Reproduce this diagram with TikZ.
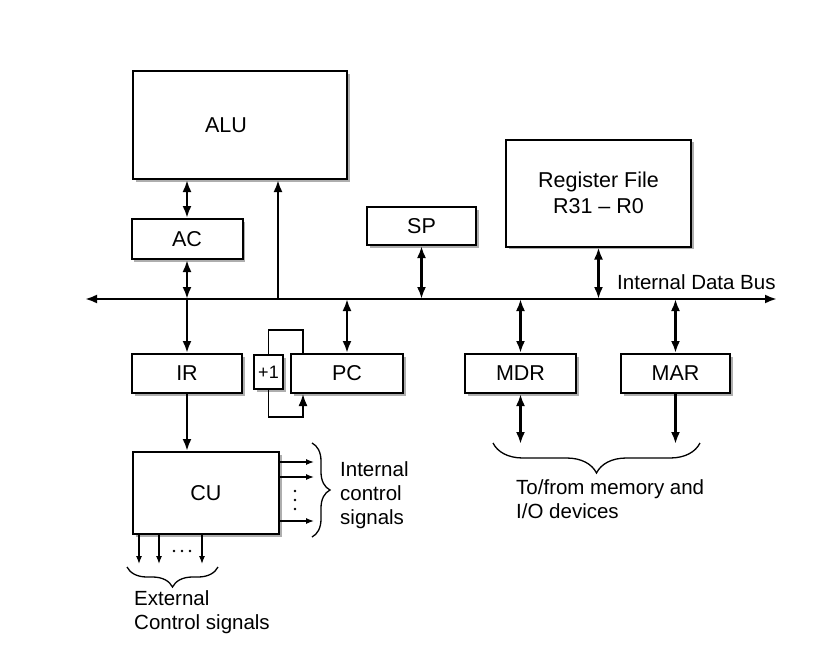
\documentclass[tikz,border=0pt]{standalone}
\usepackage{fontspec}
\setmainfont{Liberation Sans}
\usetikzlibrary{positioning,arrows.meta,shadows,decorations.pathreplacing}

\tikzset{
  reg/.style={draw, line width=2pt, fill=white, inner sep=0pt,
    drop shadow={shadow xshift=2.5pt,shadow yshift=-2.5pt,opacity=.45,fill=black!70},
    font=\fontsize{21.5}{26}\selectfont},
  bus/.style={line width=2.3pt, >={Latex[length=12pt,width=9pt]}},
  sig/.style={line width=1.3pt, ->, >={Latex[length=8pt,width=6pt]}},
  grp/.style={decorate, decoration={brace,amplitude=#1}, line width=1.3pt},
  txt/.style={align=left, inner sep=0pt, font=\fontsize{20.5}{24}\selectfont}
}

\begin{document}
\begin{tikzpicture}[x=1pt,y=-1pt]
	\useasboundingbox (0,0) rectangle (836,656);
	% registers and units
	\node[reg, minimum width=214pt, minimum height=108pt] (alu) at (240,125) {\hspace*{-28pt}ALU};
	\node[reg, minimum width=111pt, minimum height=40pt] (ac) at (187,239) {AC};
	\node[reg, minimum width=109pt, minimum height=38pt] (sp) at (421.5,226) {SP};
	\node[reg, minimum width=185pt, minimum height=107pt, align=center] (rf) at (598.5,193) {Register File\\R31 -- R0};
	\node[reg, minimum width=110pt, minimum height=39pt] (ir) at (187,373.5) {IR};
	\node[reg, minimum width=29pt, minimum height=34pt, font=\fontsize{18}{20}\selectfont] (inc) at (268.5,372) {+1};
	\node[reg, minimum width=112pt, minimum height=39pt] (pc) at (347,373.5) {PC};
	\node[reg, minimum width=111pt, minimum height=39pt] (mdr) at (520.5,373.5) {MDR};
	\node[reg, minimum width=109pt, minimum height=39pt] (mar) at (675.5,373.5) {MAR};
	\node[reg, minimum width=146pt, minimum height=82pt] (cu) at (206,493) {CU};
	% internal data bus
	\coordinate (busL) at (85,299);
	\coordinate (busR) at (777,299);
	\draw[bus,<->] (busL) -- (busR);
	\node[txt, anchor=base west] (buslabel) at (617,289) {Internal Data Bus};
	% bus connections
	\draw[bus,<->] (ac.north) -- (ac.north |- alu.south);
	\draw[bus,<->] (ac.south) -- (ac.south |- busL);
	\draw[bus,->] (ac.south |- busL) -- (ir.north);
	\coordinate (aluin) at (278,299);
	\draw[bus,->] (aluin) -- (aluin |- alu.south);
	\draw[bus,<->] (sp.south) -- (sp.south |- busL);
	\draw[bus,<->] (rf.south) -- (rf.south |- busL);
	\draw[bus,<->] (pc.north) -- (pc.north |- busL);
	\draw[bus,<->] (mdr.north) -- (mdr.north |- busL);
	\draw[bus,<->] (mar.north) -- (mar.north |- busL);
	\draw[bus,->] (ir.south) -- (ir.south |- cu.north);
	% increment loop
	\draw[line width=1.8pt] (inc.north) -- ++(0,-24) -| ([xshift=13pt]pc.north west);
	\draw[bus,line width=1.8pt,->] (inc.south) -- ++(0,27) -| ([xshift=13pt]pc.south west);
	% memory side
	\draw[bus,<->] (mdr.south) -- ++(0,50) coordinate (mdrio);
	\draw[bus,->] (mar.south) -- ++(0,50) coordinate (mario);
	\draw[grp=30pt] (700,443) -- (493,443);
	\node[txt, anchor=north west] (memlabel) at (516,479) {To/from memory and\\I/O devices};
	% control signals
	\foreach \d in {11,26,70}
		\draw[sig] ([yshift=-\d pt]cu.north east) -- ++(34,0);
	\foreach \y in {491,500,509}
		\fill (295,\y) circle (1.4pt);
	\draw[grp=18pt] (312,443) -- (312,537);
	\node[txt, anchor=west] (intlabel) at (340,495) {Internal\\control\\signals};
	\foreach \d in {7,27,70}
		\draw[sig] ([xshift=\d pt]cu.south west) -- ++(0,29);
	\foreach \x in {174,182,190}
		\fill (\x,551) circle (1.4pt);
	\draw[grp=20pt] (218,567) -- (127,567);
	\node[txt, anchor=north west] (extlabel) at (134,590) {External\\Control signals};
\end{tikzpicture}
\end{document}
